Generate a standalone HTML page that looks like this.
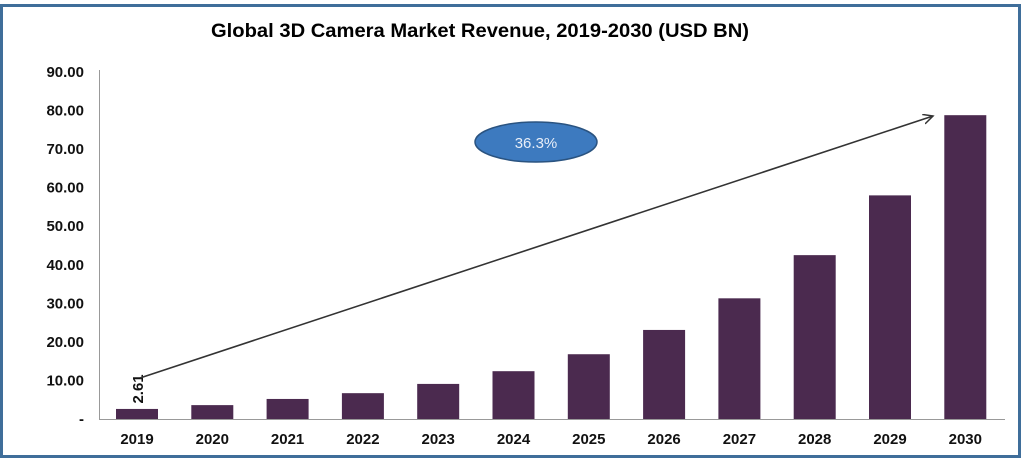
<!DOCTYPE html>
<html><head><meta charset="utf-8"><style>
body{margin:0;background:#fff;}
svg{display:block;font-family:"Liberation Sans",sans-serif;}
</style></head><body>
<svg id="chart" width="1024" height="464" viewBox="0 0 1024 464">
<rect x="1.5" y="5.5" width="1018" height="451" fill="#fff" stroke="#3f6e9a" stroke-width="3"/>
<text x="480" y="37" text-anchor="middle" font-size="19" font-weight="bold" textLength="538" lengthAdjust="spacingAndGlyphs" fill="#000">Global 3D Camera Market Revenue, 2019-2030 (USD BN)</text>
<g id="yaxis"></g>
<g id="bars"></g>
<g id="xaxis"></g>
<defs><marker id="ah" markerWidth="12" markerHeight="12" refX="10" refY="5" orient="auto" markerUnits="userSpaceOnUse"><path d="M0,0 L10,5 L0,10" fill="none" stroke="#333" stroke-width="1.5"/></marker></defs>
<line x1="140" y1="378" x2="933" y2="116" stroke="#333" stroke-width="1.6" marker-end="url(#ah)"/>
<ellipse cx="536" cy="142" rx="61" ry="20" fill="#3d7abf" stroke="#2a5380" stroke-width="1.5"/>
<text x="536" y="148" text-anchor="middle" font-size="15" fill="#e8eef8">36.3%</text>
</svg>
<script>
const categories=["2019","2020","2021","2022","2023","2024","2025","2026","2027","2028","2029","2030"];
const values=[2.61,3.6,5.2,6.7,9.1,12.4,16.8,23.1,31.3,42.5,58.0,78.8];
const yTicks=[0,10,20,30,40,50,60,70,80,90];
const yTickLabels=["-","10.00","20.00","30.00","40.00","50.00","60.00","70.00","80.00","90.00"];
const NS="http://www.w3.org/2000/svg";
const y0=419,yTop=72,yMax=90;
const y=v=>y0-(v/yMax)*(y0-yTop);
const x=i=>137+i*75.3;
const bw=42;
function mk(t,a,p){const e=document.createElementNS(NS,t);for(const k in a)e.setAttribute(k,a[k]);p.appendChild(e);return e;}
const ya=document.getElementById('yaxis'),ba=document.getElementById('bars'),xa=document.getElementById('xaxis');
const axl=mk('line',{x1:99.5,y1:70,x2:99.5,y2:y0,stroke:'#999','stroke-width':1},ya);


yTicks.forEach((v,i)=>{
 const t=mk('text',{x:84,y:y(v)+5,'text-anchor':'end','font-size':15,'font-weight':'bold',fill:'#111'},ya);
 t.textContent=yTickLabels[i];
 
 
});
const xl=mk('line',{x1:99,y1:y0+0.5,x2:1005,y2:y0+0.5,stroke:'#999','stroke-width':1},xa);


categories.forEach((c,i)=>{
 const r=mk('rect',{x:x(i)-bw/2,y:y(values[i]),width:bw,height:y0-y(values[i]),fill:'#4b2a4f'},ba);
 
 
 const t=mk('text',{x:x(i),y:444,'text-anchor':'middle','font-size':15,'font-weight':'bold',fill:'#111'},xa);
 t.textContent=c;
 
 
});
const lx=x(0)+6,ly=y(values[0])-20;
const lab=mk('text',{x:lx,y:ly,'text-anchor':'middle','font-size':15,'font-weight':'bold',fill:'#111',transform:'rotate(-90 '+lx+' '+ly+')'},ba);
lab.textContent=values[0].toFixed(2);


</script>
</body></html>
